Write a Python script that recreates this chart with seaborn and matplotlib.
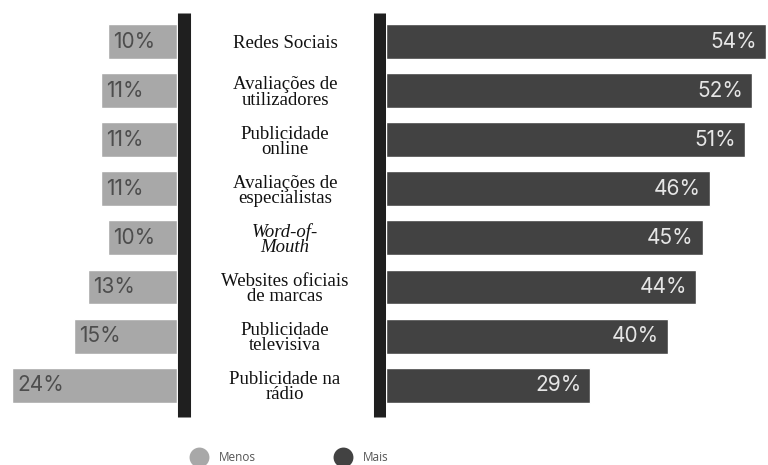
import matplotlib
matplotlib.use("Agg")
import matplotlib.pyplot as plt
import seaborn as sns
import pandas as pd

# Survey data: share of respondents trusting each source less / more
categories = [
    "Redes Sociais",
    "Avaliações de\nutilizadores",
    "Publicidade\nonline",
    "Avaliações de\nespecialistas",
    "Word-of-\nMouth",
    "Websites oficiais\nde marcas",
    "Publicidade\ntelevisiva",
    "Publicidade na\nrádio",
]
menos = [10, 11, 11, 11, 10, 13, 15, 24]
mais = [54, 52, 51, 46, 45, 44, 40, 29]
series_names = ["Menos", "Mais"]

df = pd.DataFrame({"categoria": categories, "Menos": menos, "Mais": mais})

sns.set_theme(style="white")
plt.rcParams["font.family"] = ["Inter", "DejaVu Sans"]

LIGHT = "#a8a8a8"
DARK = "#424242"
LINE = "#1f1f1f"

W, H = 768, 465
fig = plt.figure(figsize=(W / 100, H / 100), dpi=100)


def px_axes(x0, x1, y0=0, y1=H):
    return fig.add_axes([x0 / W, 1 - y1 / H, (x1 - x0) / W, (y1 - y0) / H])


row_px, first_px = 49.1, 41.5
ytop = -first_px / row_px
ybot = ytop + H / row_px
bar_w = 0.71

# left panel: "Menos" bars growing leftwards
axL = px_axes(0, 177)
sns.barplot(data=df, x="Menos", y="categoria", orient="h", color=LIGHT,
            width=bar_w, saturation=1, ax=axL)
axL.set_xlim(177 / 6.87, 0)
axL.set_ylim(ybot, ytop)
axL.axis("off")
for i, v in enumerate(menos):
    axL.annotate(f"{v}%", xy=(v, i), xytext=(5, 0), textcoords="offset pixels",
                 ha="left", va="center", fontsize=15, color="#4d4d4d")

# right panel: "Mais" bars growing rightwards
axR = px_axes(386, W)
sns.barplot(data=df, x="Mais", y="categoria", orient="h", color=DARK,
            width=bar_w, saturation=1, ax=axR)
axR.set_xlim(0, (W - 386) / 7.04)
axR.set_ylim(ybot, ytop)
axR.axis("off")
for i, v in enumerate(mais):
    axR.annotate(f"{v}%", xy=(v, i), xytext=(-9, 0), textcoords="offset pixels",
                 ha="right", va="center", fontsize=15, color="#e6e6e6")

# centre column: category names between two thick rules
axM = px_axes(177, 386)
axM.set_xlim(0, 209)
axM.set_ylim(ybot, ytop)
axM.axis("off")
axM.vlines([6.5, 202.5], -0.58, 7.65, colors=LINE, linewidth=9.4)
for i, c in enumerate(categories):
    axM.annotate(c, xy=(108, i), xytext=(0, -2), textcoords="offset pixels",
                 ha="center", va="center", fontsize=13.5,
                 family=["Liberation Serif", "DejaVu Serif"], color="#111111",
                 style="italic" if c.startswith("Word") else "normal",
                 linespacing=0.87)

# legend row
axLeg = px_axes(0, W, 440, H)
axLeg.set_xlim(0, W)
axLeg.set_ylim(H, 440)
axLeg.axis("off")
for name, col, x in zip(series_names, [LIGHT, DARK], [199, 343]):
    axLeg.scatter([x], [457], s=205, color=col, clip_on=False, linewidths=0)
    axLeg.text(x + 20, 457, name, ha="left", va="center", fontsize=8.5,
               color="#555555", family=["Open Sans", "DejaVu Sans"])

fig.savefig("out.png", dpi=100)
